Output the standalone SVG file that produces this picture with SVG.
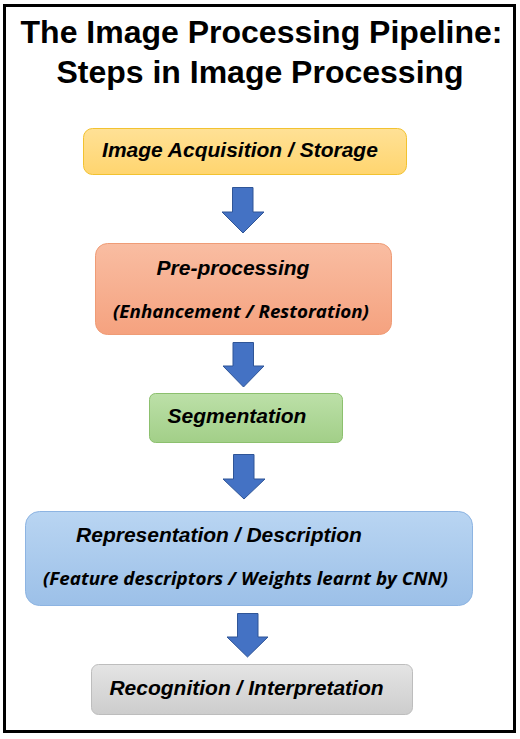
<svg xmlns="http://www.w3.org/2000/svg" width="520" height="739" viewBox="0 0 520 739">
<defs>
<linearGradient id="gY" x1="0" y1="0" x2="0" y2="1"><stop offset="0" stop-color="#FFE196"/><stop offset="1" stop-color="#FFD56F"/></linearGradient>
<linearGradient id="gO" x1="0" y1="0" x2="0" y2="1"><stop offset="0" stop-color="#F9BDA2"/><stop offset="1" stop-color="#F5A27F"/></linearGradient>
<linearGradient id="gG" x1="0" y1="0" x2="0" y2="1"><stop offset="0" stop-color="#BCE0A8"/><stop offset="1" stop-color="#A2CF88"/></linearGradient>
<linearGradient id="gB" x1="0" y1="0" x2="0" y2="1"><stop offset="0" stop-color="#B9D5F2"/><stop offset="1" stop-color="#9CC0E8"/></linearGradient>
<linearGradient id="gK" x1="0" y1="0" x2="0" y2="1"><stop offset="0" stop-color="#E4E4E4"/><stop offset="1" stop-color="#CDCDCD"/></linearGradient>
</defs>
<style>
.title{font-family:"Liberation Sans",Arial,sans-serif;font-weight:bold;font-size:32px;fill:#000;text-anchor:middle}
.lbl{font-family:"Liberation Sans",Arial,sans-serif;font-weight:bold;font-style:italic;font-size:21px;fill:#000;text-anchor:middle}
.sub{font-family:"Open Sans","Liberation Sans",sans-serif;font-weight:bold;font-style:italic;font-size:17px;fill:#000;text-anchor:middle}
.arrow{fill:#4472C4;stroke:#2F5597;stroke-width:1}
</style>
<rect x="0" y="0" width="520" height="739" fill="#fff"/>
<rect x="4.5" y="5.5" width="510" height="726" fill="#fff" stroke="#000" stroke-width="3"/>
<g id="title">
<text class="title" x="261.5" y="43">The Image Processing Pipeline:</text>
<text class="title" x="260" y="83">Steps in Image Processing</text>
</g>
<g id="node-acquisition">
<rect x="83.5" y="128.5" width="323" height="46" rx="9" fill="url(#gY)" stroke="#F2C230" stroke-width="1"/>
<text class="lbl" x="240" y="157">Image Acquisition / Storage</text>
</g>
<g id="node-preprocessing">
<rect x="95.5" y="243.5" width="296" height="91" rx="12" fill="url(#gO)" stroke="#EF9C76" stroke-width="1"/>
<text class="lbl" x="233" y="275">Pre-processing</text>
<text class="sub" x="241" y="318" textLength="256" lengthAdjust="spacingAndGlyphs">(Enhancement / Restoration)</text>
</g>
<g id="node-segmentation">
<rect x="149.5" y="393.5" width="193" height="49" rx="6" fill="url(#gG)" stroke="#8CC06E" stroke-width="1"/>
<text class="lbl" x="237" y="423">Segmentation</text>
</g>
<g id="node-representation">
<rect x="25.5" y="511.5" width="447" height="94" rx="14" fill="url(#gB)" stroke="#8DB4E2" stroke-width="1"/>
<text class="lbl" x="219" y="542">Representation / Description</text>
<text class="sub" x="245.5" y="585" textLength="405" lengthAdjust="spacingAndGlyphs">(Feature descriptors / Weights learnt by CNN)</text>
</g>
<g id="node-recognition">
<rect x="91.5" y="664.5" width="321" height="50" rx="7" fill="url(#gK)" stroke="#BDBDBD" stroke-width="1"/>
<text class="lbl" x="246.5" y="695">Recognition / Interpretation</text>
</g>
<g id="connectors">
<path class="arrow" d="M232.5,187.5 H253 V212 H264 L243,233 L222,212 H232.5 Z"/>
<path class="arrow" d="M233,342.5 H253.5 V366 H264 L243.5,387 L223,366 H233 Z"/>
<path class="arrow" d="M233.5,454.5 H254 V479 H265 L244,499 L223,479 H233.5 Z"/>
<path class="arrow" d="M237.5,613.5 H258 V637 H268 L247.5,657 L227,637 H237.5 Z"/>
</g>
</svg>
